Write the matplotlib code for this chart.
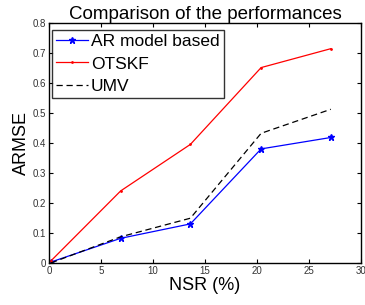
import matplotlib
matplotlib.use("Agg")
import matplotlib.pyplot as plt

plt.rcParams['font.family'] = ['Liberation Sans', 'DejaVu Sans']

# NSR values (%) and ARMSE of each method
nsr = [0.2, 6.9, 13.6, 20.4, 27.1]
ar_model = [0.003, 0.082, 0.130, 0.380, 0.418]
otskf = [0.007, 0.240, 0.395, 0.651, 0.714]
umv = [0.000, 0.087, 0.149, 0.432, 0.512]

x_ticks = [0, 5, 10, 15, 20, 25, 30]
y_ticks = [0, 0.1, 0.2, 0.3, 0.4, 0.5, 0.6, 0.7, 0.8]
y_tick_labels = ['0', '0.1', '0.2', '0.3', '0.4', '0.5', '0.6', '0.7', '0.8']

fig = plt.figure(figsize=(3.65, 3.05), dpi=100)
ax = fig.add_axes([0.134, 0.138, 0.855, 0.787])

ax.plot(nsr, ar_model, color='blue', linewidth=0.9, marker='*', markersize=4.5,
        label='AR model based')
ax.plot(nsr, otskf, color='red', linewidth=0.9, marker='.', markersize=2,
        label='OTSKF')
ax.plot(nsr, umv, color='black', linewidth=0.9, linestyle=(0, (5, 3)),
        label='UMV')

ax.set_xlim(0, 30)
ax.set_ylim(0, 0.8)
ax.set_xticks(x_ticks)
ax.set_yticks(y_ticks)
ax.set_yticklabels(y_tick_labels)
ax.tick_params(direction='in', top=True, right=True, labelsize=7,
               length=3, width=0.8, pad=2, labelcolor='#333333')
for spine in ax.spines.values():
    spine.set_linewidth(1.0)

ax.set_title('Comparison of the performances', fontsize=13.5, pad=3)
ax.set_xlabel('NSR (%)', fontsize=13, labelpad=1)
ax.set_ylabel('ARMSE', fontsize=13, labelpad=2)

leg = ax.legend(loc='upper left', bbox_to_anchor=(0.01, 0.972),
                fontsize=12.5, frameon=True, fancybox=False,
                edgecolor='black', handlelength=1.85, handletextpad=0.15,
                borderpad=0.25, labelspacing=0.42, borderaxespad=0)
leg.get_frame().set_linewidth(1.0)

fig.savefig('out.png', dpi=100)
